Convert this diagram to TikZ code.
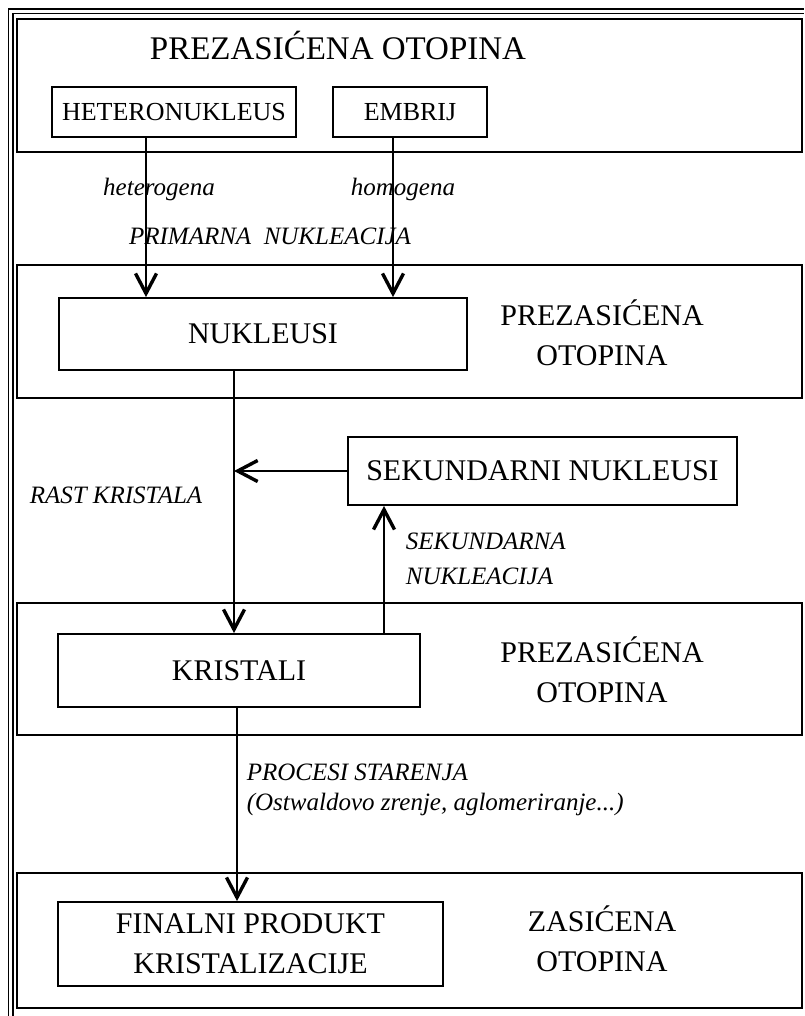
\documentclass[tikz,border=0pt]{standalone}
\usepackage{fontspec}
\setmainfont{Liberation Serif}
\usetikzlibrary{arrows.meta,positioning,calc}

\begin{document}
\begin{tikzpicture}[x=1pt, y=-1pt, >={Straight Barb[length=20pt,width=21pt,line width=3.4pt]}, line width=1.7pt]
\tikzstyle{panel}=[draw=black,line width=2pt,inner sep=0pt]
\tikzstyle{box}=[draw=black,line width=1.8pt,inner sep=0pt,align=center,font=\fontsize{30}{40}\selectfont]
\tikzstyle{small box}=[box,font=\fontsize{26}{30}\selectfont]
\tikzstyle{side}=[align=center,font=\fontsize{30}{40}\selectfont]
\tikzstyle{lbl}=[inner sep=0pt,font=\fontsize{25}{30}\itshape]
\useasboundingbox (0,0) rectangle (804,1016);
% double frame on top and left
\draw[line width=1.8pt] (8.5,1016) -- (8.5,9) -- (804,9);
\draw[line width=1.8pt] (12.9,1016) -- (12.9,13.6) -- (804,13.6);
% panels
\node[panel, minimum width=785, minimum height=133] (p1) at (409.5,85.5) {};
\node[panel, minimum width=785, minimum height=133] (p2) at (409.5,331.5) {};
\node[panel, minimum width=785, minimum height=132] (p3) at (409.5,669) {};
\node[panel, minimum width=785, minimum height=135] (p4) at (409.5,940.5) {};
% boxes
\node[font=\fontsize{33}{36}\selectfont] (title) at (338,46) {PREZASIĆENA OTOPINA};
\node[small box, minimum width=244, minimum height=50] (het) at (174,112) {HETERONUKLEUS};
\node[small box, minimum width=154, minimum height=50] (emb) at (410,112) {EMBRIJ};
\node[box, minimum width=408, minimum height=72] (nuk) at (263,334) {NUKLEUSI};
\node[box, minimum width=389, minimum height=68] (sek) at (542.5,471) {SEKUNDARNI NUKLEUSI};
\node[box, minimum width=362, minimum height=73] (kri) at (239,670.5) {KRISTALI};
\node[box, minimum width=385, minimum height=84] (fin) at (250.5,944) {FINALNI PRODUKT\\KRISTALIZACIJE};
\node[side] (o2) at (602,333) {PREZASIĆENA\\OTOPINA};
\node[side] (o3) at (602,670) {PREZASIĆENA\\OTOPINA};
\node[side] (o4) at (602,939) {ZASIĆENA\\OTOPINA};
% columns of the arrows
\coordinate (c1) at (146,0);
\coordinate (c2) at (393,0);
\coordinate (c3) at (234,0);
\coordinate (c4) at (384,0);
\coordinate (c5) at (237,0);
\draw[->] (het.south -| c1) -- (nuk.north -| c1);
\draw[->] (emb.south -| c2) -- (nuk.north -| c2);
\draw[->] (nuk.south -| c3) -- (kri.north -| c3);
\draw[->] (sek.west) -- (sek.west -| c3);
\draw[->] (kri.north -| c4) -- (sek.south -| c4);
\draw[->] (kri.south -| c5) -- (fin.north -| c5);
% labels
\node[lbl] (heter) at (159,189) {heterogena};
\node[lbl] (homog) at (403,189) {homogena};
\node[lbl] (prim) at (270,236) {PRIMARNA\ \ NUKLEACIJA};
\node[lbl] (rast) at (116,495) {RAST KRISTALA};
\node[lbl, align=left, anchor=west, font=\fontsize{25}{35}\itshape] (sekn) at (405,559) {SEKUNDARNA\\NUKLEACIJA};
\node[lbl, align=left, anchor=west, font=\fontsize{25}{30}\itshape] (proc) at (246,790) {PROCESI STARENJA\\(Ostwaldovo zrenje, aglomeriranje...)};
\end{tikzpicture}
\end{document}
